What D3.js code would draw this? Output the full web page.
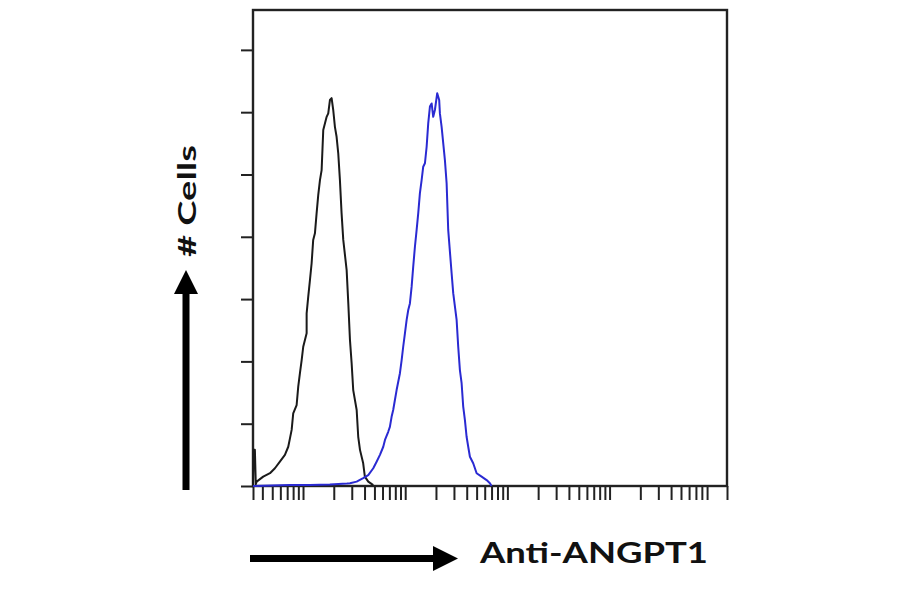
<!DOCTYPE html>
<html>
<head>
<meta charset="utf-8">
<script src="https://cdn.jsdelivr.net/npm/d3@7"></script>
<style>
  body { margin: 0; background: #fff; }
  .lbl { font-family: Lato, "Liberation Sans", Arial, sans-serif; font-weight: 700; fill: #111; }
</style>
</head>
<body>
<svg id="flow" width="900" height="594"></svg>
<script>
// isotype control histogram (black)
const ctrlIntensity = [3.24, 3.30, 3.38, 3.45, 3.52, 4.08, 4.75, 5.31, 5.94, 6.65, 7.17, 7.45, 7.74, 8.02, 8.66,
  8.98, 9.33, 9.70, 10.05, 10.85, 10.85, 11.25, 11.69, 12.14, 12.58, 13.08, 13.58, 14.09, 14.65, 15.21,
  15.78, 17.03, 17.66, 18.34, 19.05, 19.76, 20.52, 21.31, 22.12, 22.97, 23.85, 24.77, 26.73, 27.75, 28.80,
  29.91, 31.0, 33.5, 34.7, 36.1, 38.8, 40.3, 43.5, 48.7]
const ctrlCount = [0, 11.6, 11.6, 0.6, 1.4, 3.0, 4.1, 5.7, 7.8, 10.0, 12.6, 15.3, 18.0, 23.3, 26.0,
  31.9, 36.2, 40.4, 44.7, 49.0, 55.4, 60.8, 66.1, 71.5, 79.0, 81.1, 87.5, 93.4, 98.2, 101.4,
  114.3, 118.5, 119.6, 123.9, 124.5, 120.7, 115.3, 112.1, 106.8, 98.2, 87.5, 79.0, 69.3, 58.6, 46.9,
  39.4, 30.8, 24.4, 15.8, 11.6, 7.3, 3.0, 1.4, 0.3]

// Anti-ANGPT1 stained histogram (blue)
const stainIntensity = [3.24, 7.45, 11.7, 18.3, 26.9, 28.8, 33.5, 38.8, 43.5, 48.7, 52.5, 56.6, 61.0, 63.4, 68.2,
  70.8, 73.6, 76.3, 79.3, 82.4, 88.8, 92.3, 95.6, 99.4, 103.3, 107.1, 111.2, 115.6, 119.8, 124.5,
  129.4, 134.1, 139.3, 144.8, 150.1, 156.0, 162.1, 168.0, 174.6, 181.4, 188.0, 195.3, 205.8, 215.1, 218.6,
  227.2, 244.7, 254.3, 263.6, 284.6, 295.1, 318.6, 330.3, 343.0, 356.5, 369.6, 383.9, 398.9, 413.8, 429.9,
  463.0, 500.0, 559.5, 626.3, 674.5, 700]
const stainCount = [0, 0.3, 0.3, 0.5, 0.8, 0.9, 1.4, 2.5, 3.5, 5.7, 7.8, 10.0, 12.6, 14.8, 17.4,
  19.0, 22.2, 24.4, 27.6, 30.8, 36.2, 40.4, 44.7, 49.0, 53.3, 56.5, 58.6, 64.0, 70.4, 76.8,
  82.2, 87.5, 94.0, 98.2, 102.5, 103.6, 108.9, 116.4, 121.8, 122.8, 118.5, 120.7, 126.1, 123.9, 119.6,
  115.3, 104.6, 97.2, 82.2, 68.3, 61.9, 53.3, 44.7, 37.2, 33.0, 25.5, 21.2, 15.8, 12.6, 9.4,
  7.3, 4.1, 3.0, 1.9, 0.9, 0]

const yTicks = [0, 20, 40, 60, 80, 100, 120, 140]
const decades = [1, 10, 100, 1000, 10000]
const xDomain = [3.24, 141000]
const yDomain = [0, 152.8]

const xLabel = "Anti-ANGPT1"
const yLabel = "# Cells"

let svg = d3.select("#flow")
let pLeft = 253, pRight = 727, pTop = 10, pBottom = 486

let x = d3.scaleLog().domain(xDomain).range([pLeft, pRight])
let y = d3.scaleLinear().domain(yDomain).range([pBottom, pTop])

// minor ticks 1..9 per decade, only inside the domain
let xTicks = []
decades.forEach((d) => {
  for (let k = 1; k <= 9; k++) {
    let v = d * k
    if (v >= xDomain[0] && v <= xDomain[1]) xTicks.push(v)
  }
})
xTicks.push(xDomain[0], xDomain[1])

let gx = svg.append("g")
  .attr("transform", "translate(0," + pBottom + ")")
  .call(d3.axisBottom(x).tickValues(xTicks).tickSize(14).tickFormat(""))
gx.select(".domain").remove()
gx.selectAll("line").attr("stroke", "#222").attr("stroke-width", 2)

let gy = svg.append("g")
  .attr("transform", "translate(" + pLeft + ",0)")
  .call(d3.axisLeft(y).tickValues(yTicks).tickSize(12).tickFormat(""))
gy.select(".domain").remove()
gy.selectAll("line").attr("stroke", "#222").attr("stroke-width", 2)

svg.append("rect")
  .attr("x", pLeft).attr("y", pTop)
  .attr("width", pRight - pLeft).attr("height", pBottom - pTop)
  .attr("fill", "none")
  .attr("stroke", "#222")
  .attr("stroke-width", 2.4)

let line = d3.line()
  .x((d) => x(d[0]))
  .y((d) => y(d[1]))

svg.append("path")
  .datum(d3.zip(ctrlIntensity, ctrlCount))
  .attr("fill", "none")
  .attr("stroke", "#1a1a1a")
  .attr("stroke-width", 2)
  .attr("stroke-linejoin", "round")
  .attr("d", line)

svg.append("path")
  .datum(d3.zip(stainIntensity, stainCount))
  .attr("fill", "none")
  .attr("stroke", "#2a2ad2")
  .attr("stroke-width", 2)
  .attr("stroke-linejoin", "round")
  .attr("d", line)

// y arrow and label
let ax = 186
svg.append("line")
  .attr("x1", ax).attr("x2", ax)
  .attr("y1", pBottom + 4).attr("y2", 292)
  .attr("stroke", "#000").attr("stroke-width", 7)
svg.append("path")
  .attr("d", "M" + (ax - 12) + ",294L" + (ax + 12) + ",294L" + ax + ",270Z")
  .attr("fill", "#000")

svg.append("text")
  .attr("class", "lbl")
  .attr("transform", "translate(196,201) rotate(-90)")
  .attr("text-anchor", "middle")
  .attr("font-size", "24px")
  .attr("textLength", 112)
  .attr("lengthAdjust", "spacingAndGlyphs")
  .text(yLabel)

// x arrow and label
let ay = 558.5
svg.append("line")
  .attr("x1", 250).attr("x2", 435)
  .attr("y1", ay).attr("y2", ay)
  .attr("stroke", "#000").attr("stroke-width", 7)
svg.append("path")
  .attr("d", "M433," + (ay - 12.5) + "L433," + (ay + 12.5) + "L458," + ay + "Z")
  .attr("fill", "#000")

svg.append("text")
  .attr("class", "lbl")
  .attr("x", 480)
  .attr("y", 563)
  .attr("font-size", "29px")
  .attr("textLength", 228)
  .attr("lengthAdjust", "spacingAndGlyphs")
  .text(xLabel)
</script>
</body>
</html>
